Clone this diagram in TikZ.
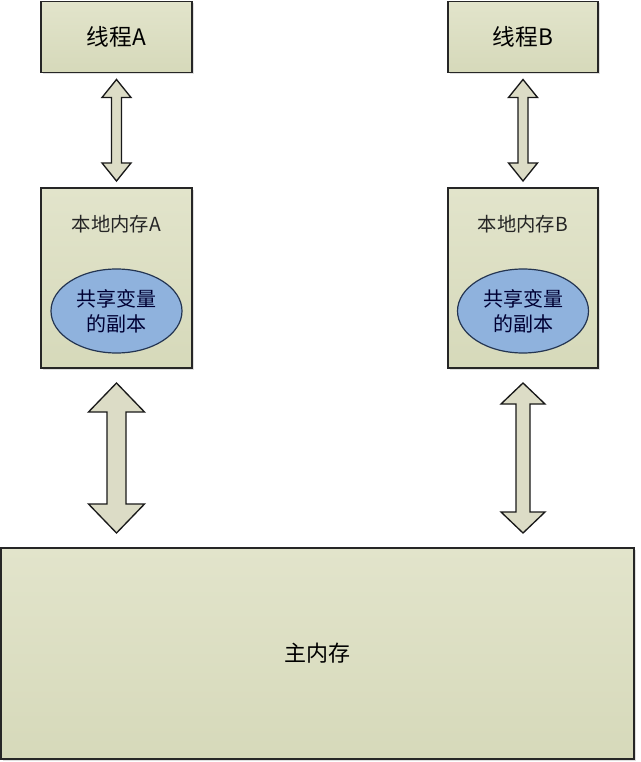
\documentclass[tikz,border=0pt]{standalone}
\usepackage{fontspec}
\newfontfamily\cjk{Noto Sans CJK SC}
\usepackage{tikz}
\usetikzlibrary{positioning,shapes.geometric,calc,shadows}
\definecolor{boxtop}{HTML}{E2E4CB}
\definecolor{boxbot}{HTML}{D6D9BA}
\definecolor{arrfill}{HTML}{DCDCC6}
\definecolor{ellfill}{HTML}{8FB2DD}
\definecolor{elldraw}{HTML}{243552}
\def\u{0.75pt}
% block arrow between two stacked nodes: upper, lower, gap, half shaft, half head, head length
\newcommand{\blockarrow}[6]{%
  \coordinate (at) at ($(#1.south)+(0,#3)$);
  \coordinate (ab) at ($(#1.south |- #2.north)+(0,-#3)$);
  \draw[blockarr] (at) -- ++(#5,#6) -- ++(#4-#5,0) -- ($(ab)+(#4,-#6)$) -- ++(#5-#4,0)
    -- (ab) -- ++(-#5,-#6) -- ++(#5-#4,0) -- ($(at)+(-#4,#6)$) -- ++(#4-#5,0) -- cycle;
}

\begin{document}
\begin{tikzpicture}[
  x=\u, y=-\u,
  font=\cjk,
  membox/.style={draw=black!85, line width=1.1pt, top color=boxtop, bottom color=boxbot,
                 inner sep=0pt, outer sep=0pt,
                 drop shadow={shadow xshift=1.2pt, shadow yshift=-1.2pt, opacity=0.25}},
  thrlbl/.style={font=\cjk\fontsize{17}{20}\selectfont},
  memlbl/.style={font=\cjk\fontsize{14.5}{18}\selectfont, text=black!85},
  copyell/.style={ellipse, draw=elldraw, line width=0.9pt, fill=ellfill, inner sep=0pt,
                  minimum width=131*\u, minimum height=84*\u, align=center,
                  font=\cjk\fontsize{15}{18.5}\selectfont, text=black!80!blue},
  blockarr/.style={draw=black!90, line width=1pt, fill=arrfill, line join=miter}
]
\useasboundingbox (0,0) rectangle (640,762);
\fill[white] (0,0) rectangle (640,762);

\node[membox, thrlbl, minimum width=151*\u, minimum height=71*\u] (thrA) at (116.5,37) {线程A};
\node[membox, thrlbl, minimum width=150*\u, minimum height=71*\u] (thrB) at (523,37) {线程B};

\node[membox, minimum width=151*\u, minimum height=180*\u] (locA) at (116.5,278) {};
\node[membox, minimum width=150*\u, minimum height=180*\u] (locB) at (523,278) {};
\node[memlbl] (locAlbl) at ($(locA.north)+(0,36)$) {本地内存A};
\node[memlbl] (locBlbl) at ($(locB.north)+(0,36)$) {本地内存B};
\node[copyell] (copyA) at ($(locA.north)+(0,123)$) {共享变量\\的副本};
\node[copyell] (copyB) at ($(locB.north)+(0,123)$) {共享变量\\的副本};

\node[membox, minimum width=633*\u, minimum height=211*\u,
      font=\cjk\fontsize{16.5}{20}\selectfont] (mainmem) at (317.5,653.5) {主内存};

\blockarrow{thrA}{locA}{7}{5}{14.5}{18}
\blockarrow{thrB}{locB}{7}{5}{14.5}{18}
\blockarrow{locA}{mainmem}{15}{9.5}{28}{29}
\blockarrow{locB}{mainmem}{15}{7}{22}{21}
\end{tikzpicture}
\end{document}
